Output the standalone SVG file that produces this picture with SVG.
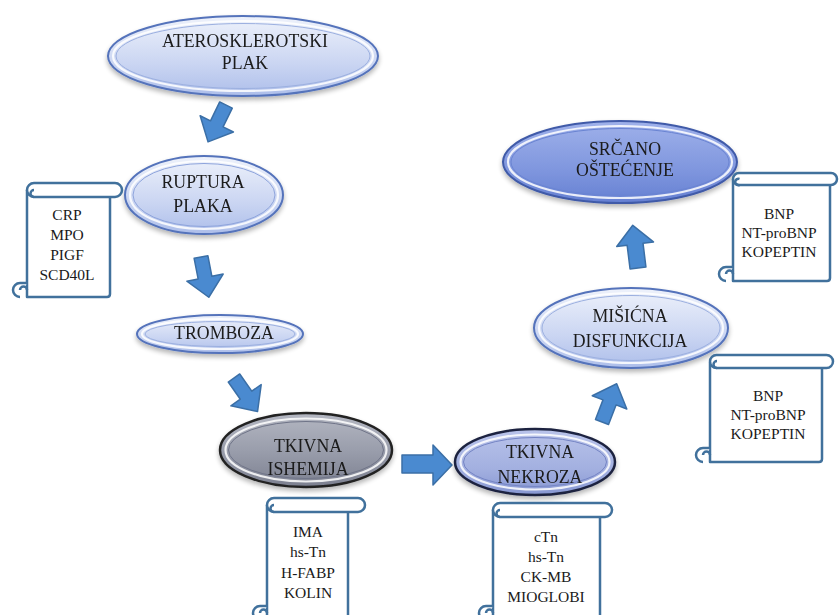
<svg xmlns="http://www.w3.org/2000/svg" width="840" height="615" viewBox="0 0 840 615">
<style>
.lbl{font-size:17.8px;fill:#1a1a1a;text-anchor:middle}
.sc{font-size:15.5px;fill:#1a1a1a;text-anchor:middle}
.scroll path,.scroll rect{fill:#fff;stroke:#41719c;stroke-width:2.5;stroke-linejoin:round}
.scroll .ln{fill:none}
.arr{fill:#4a8ad0;stroke:#3b6fa6;stroke-width:1.5;stroke-linejoin:round}
.ring{fill:none;stroke:#fff;stroke-width:2.2;opacity:.85}
</style>
<defs>
<linearGradient id="gL" x1="0" y1="0" x2="0" y2="1"><stop offset="0" stop-color="#eef2fb"/><stop offset="0.6" stop-color="#cad5f2"/><stop offset="1" stop-color="#adbeea"/></linearGradient>
<linearGradient id="gG" x1="0" y1="0" x2="0" y2="1"><stop offset="0" stop-color="#b4b7c2"/><stop offset="0.5" stop-color="#9a9eac"/><stop offset="1" stop-color="#7c8090"/></linearGradient>
<linearGradient id="gN" x1="0" y1="0" x2="0" y2="1"><stop offset="0" stop-color="#b9c3ea"/><stop offset="0.6" stop-color="#a3b0e0"/><stop offset="1" stop-color="#8797d2"/></linearGradient>
<linearGradient id="gS" x1="0" y1="0" x2="0" y2="1"><stop offset="0" stop-color="#9fb1ea"/><stop offset="0.6" stop-color="#7f96de"/><stop offset="1" stop-color="#6580d2"/></linearGradient>
<filter id="sh" x="-20%" y="-20%" width="140%" height="150%"><feGaussianBlur in="SourceAlpha" stdDeviation="2.5"/><feOffset dy="3"/><feComponentTransfer><feFuncA type="linear" slope="0.3"/></feComponentTransfer><feMerge><feMergeNode/><feMergeNode in="SourceGraphic"/></feMerge></filter>
</defs>
<rect width="840" height="615" fill="#fff"/>

<g id="connectors">
<polygon class="arr" points="-7,0 7,0 7,21 18.5,21 0,41 -18.5,21 -7,21" transform="translate(226,105) rotate(26)"/>
<polygon class="arr" points="-7,0 7,0 7,21 18.5,21 0,41 -18.5,21 -7,21" transform="translate(201,257) rotate(-11)"/>
<polygon class="arr" points="-7,0 7,0 7,21 18.5,21 0,41 -18.5,21 -7,21" transform="translate(234,378) rotate(-35)"/>
<polygon class="arr" points="402,455 433,455 433,445 452,465 433,485 433,473 402,473"/>
<polygon class="arr" points="-7,0 7,0 7,21 18.5,21 0,41 -18.5,21 -7,21" transform="translate(602,422) rotate(201)"/>
<polygon class="arr" points="-8,0 8,0 8,24 18.5,24 0,43 -18.5,24 -8,24" transform="translate(638,268) rotate(173)"/>
</g>

<g font-family="Liberation Serif, Times New Roman, serif">
<g id="n-atero" filter="url(#sh)">
<ellipse cx="243" cy="56" rx="135" ry="40" fill="url(#gL)" stroke="#5473bb" stroke-width="2"/>
<ellipse class="ring" cx="243" cy="56" rx="130" ry="35"/>
<ellipse cx="243" cy="56" rx="127" ry="32.5" fill="none" stroke="#9cb0e0" stroke-width="1"/>
<text class="lbl" x="245" y="47">ATEROSKLEROTSKI</text>
<text class="lbl" x="245" y="69">PLAK</text>
</g>

<g id="n-ruptura" filter="url(#sh)">
<ellipse cx="204" cy="195" rx="79" ry="39" fill="url(#gL)" stroke="#5473bb" stroke-width="2"/>
<ellipse class="ring" cx="204" cy="195" rx="74" ry="34"/>
<ellipse cx="204" cy="195" rx="71" ry="31.5" fill="none" stroke="#8ea4dc" stroke-width="1"/>
<text class="lbl" x="203" y="188">RUPTURA</text>
<text class="lbl" x="203" y="212">PLAKA</text>
</g>

<g id="n-tromboza" filter="url(#sh)">
<ellipse cx="220" cy="334" rx="83" ry="19" fill="url(#gL)" stroke="#5473bb" stroke-width="2"/>
<ellipse class="ring" cx="220" cy="334" rx="78" ry="15"/>
<ellipse cx="220" cy="334" rx="75" ry="12.5" fill="none" stroke="#9cb0e0" stroke-width="1"/>
<text class="lbl" x="224" y="339">TROMBOZA</text>
</g>

<g id="n-ishemija" filter="url(#sh)">
<ellipse cx="306" cy="450" rx="86" ry="37" fill="url(#gG)" stroke="#222" stroke-width="2.5"/>
<ellipse class="ring" cx="306" cy="450" rx="80.5" ry="31.5"/>
<ellipse cx="306" cy="450" rx="77.5" ry="28.5" fill="none" stroke="#6f7488" stroke-width="1"/>
<text class="lbl" x="308" y="452">TKIVNA</text>
<text class="lbl" x="308" y="475">ISHEMIJA</text>
</g>

<g id="n-nekroza" filter="url(#sh)">
<ellipse cx="535" cy="462" rx="80" ry="33" fill="url(#gN)" stroke="#1d2440" stroke-width="2.5"/>
<ellipse class="ring" cx="535" cy="462" rx="74.5" ry="27.5"/>
<ellipse cx="535" cy="462" rx="71.5" ry="24.5" fill="none" stroke="#7484c4" stroke-width="1"/>
<text class="lbl" x="540" y="458">TKIVNA</text>
<text class="lbl" x="540" y="483">NEKROZA</text>
</g>

<g id="n-misicna" filter="url(#sh)">
<ellipse cx="631" cy="328" rx="97" ry="40" fill="url(#gL)" stroke="#5473bb" stroke-width="2"/>
<ellipse class="ring" cx="631" cy="328" rx="92" ry="35"/>
<ellipse cx="631" cy="328" rx="89" ry="32.5" fill="none" stroke="#9cb0e0" stroke-width="1"/>
<text class="lbl" x="630" y="322">MIŠIĆNA</text>
<text class="lbl" x="630" y="347">DISFUNKCIJA</text>
</g>

<g id="n-srcano" filter="url(#sh)">
<ellipse cx="620" cy="162" rx="117" ry="41" fill="url(#gS)" stroke="#3f5aa8" stroke-width="2"/>
<ellipse class="ring" cx="620" cy="162" rx="112" ry="36"/>
<ellipse cx="620" cy="162" rx="109" ry="33.5" fill="none" stroke="#6a84d2" stroke-width="1"/>
<text class="lbl" x="625" y="155">SRČANO</text>
<text class="lbl" x="625" y="176">OŠTEĆENJE</text>
</g>

<g id="s-ruptura" class="scroll">
<path d="M27,190 V297 H107 Q110,297 110,294 V197"/>
<rect x="27" y="183" width="95" height="14" rx="7"/>
<path class="ln" d="M34,197 A3.5,3.5 0 1 1 34,190"/>
<path d="M20,297 A7,7 0 0 1 20,283 H27"/>
<path class="ln" d="M20,290 A3.5,3.5 0 0 1 27,290"/>
<text class="sc" x="67" y="220">CRP</text>
<text class="sc" x="67" y="240">MPO</text>
<text class="sc" x="67" y="260">PIGF</text>
<text class="sc" x="67" y="280">SCD40L</text>
</g>

<g id="s-ishemija" class="scroll">
<path d="M267,505 V620 H345 Q348,620 348,617 V512"/>
<rect x="267" y="498" width="98" height="14" rx="7"/>
<path class="ln" d="M274,512 A3.5,3.5 0 1 1 274,505"/>
<path d="M260,620 A7,7 0 0 1 260,606 H267"/>
<path class="ln" d="M260,613 A3.5,3.5 0 0 1 267,613"/>
<text class="sc" x="308" y="537">IMA</text>
<text class="sc" x="308" y="557">hs-Tn</text>
<text class="sc" x="308" y="578">H-FABP</text>
<text class="sc" x="308" y="598">KOLIN</text>
</g>

<g id="s-nekroza" class="scroll">
<path d="M493,510 V620 H597 Q600,620 600,617 V517"/>
<rect x="493" y="503" width="119" height="14" rx="7"/>
<path class="ln" d="M500,517 A3.5,3.5 0 1 1 500,510"/>
<path d="M486,620 A7,7 0 0 1 486,606 H493"/>
<path class="ln" d="M486,613 A3.5,3.5 0 0 1 493,613"/>
<text class="sc" x="546" y="542">cTn</text>
<text class="sc" x="546" y="562">hs-Tn</text>
<text class="sc" x="546" y="582">CK-MB</text>
<text class="sc" x="546" y="602">MIOGLOBI</text>
</g>

<g id="s-misicna" class="scroll">
<path d="M710,362 V462 H819 Q822,462 822,459 V368"/>
<rect x="710" y="355" width="123" height="13" rx="6.5"/>
<path class="ln" d="M717,368 A3.5,3.5 0 1 1 717,361"/>
<path d="M703,462 A7,7 0 0 1 703,448 H710"/>
<path class="ln" d="M703,455 A3.5,3.5 0 0 1 710,455"/>
<text class="sc" x="768" y="401">BNP</text>
<text class="sc" x="768" y="420">NT-proBNP</text>
<text class="sc" x="768" y="439">KOPEPTIN</text>
</g>

<g id="s-srcano" class="scroll">
<path d="M733,179 V281 H827 Q830,281 830,278 V185"/>
<rect x="733" y="173" width="104" height="12" rx="6"/>
<path class="ln" d="M739.5,185 A3.2,3.2 0 1 1 739.5,179"/>
<path d="M726,281 A7,7 0 0 1 726,267 H733"/>
<path class="ln" d="M726,274 A3.5,3.5 0 0 1 733,274"/>
<text class="sc" x="779" y="219">BNP</text>
<text class="sc" x="779" y="238">NT-proBNP</text>
<text class="sc" x="779" y="257">KOPEPTIN</text>
</g>
</g>
</svg>
